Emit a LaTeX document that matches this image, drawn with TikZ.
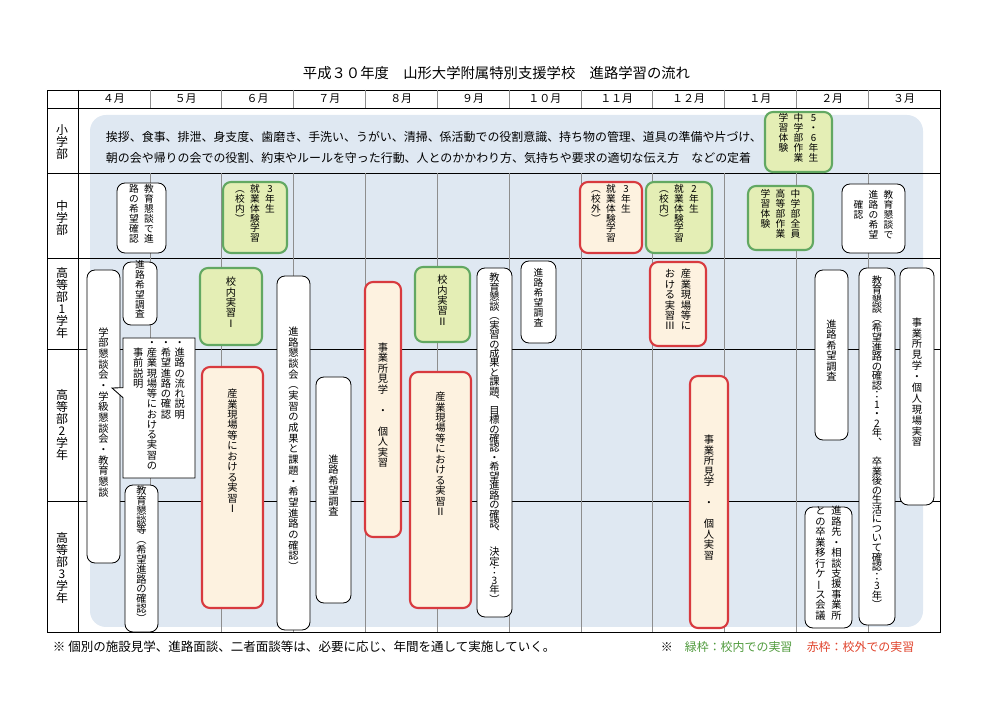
\documentclass[tikz,border=0pt]{standalone}
\usepackage{fontspec}
\setmainfont{Noto Sans CJK JP}
\usetikzlibrary{fit, shapes.callouts}
\definecolor{haikei}{HTML}{DFE8F2}
\definecolor{midori}{HTML}{62A862}
\definecolor{midoriin}{HTML}{E4EEB5}
\definecolor{aka}{HTML}{D83A3F}
\definecolor{akain}{HTML}{FDF2E0}
\definecolor{keisen}{HTML}{8E8E8E}
\definecolor{chuigreen}{HTML}{4F9A3C}
\definecolor{chuired}{HTML}{E0432C}
\tikzstyle{waku} = [line width = 0.7pt, black]
\tikzstyle{tsukisen} = [line width = 0.4pt, keisen]
\tikzstyle{moji} = [font = \fontsize{7.3}{8}\selectfont]
\makeatletter
\newcommand{\tcol}[2][1.02]{\vtop{\baselineskip=#1em\lineskiplimit=-100pt\lineskip=0pt\@tfor\tc@x:=#2\do{\hbox to 1em{\hss\tc@x\hss}}}}
\makeatother
\newcommand{\vbar}{\rotatebox[origin=c]{90}{ー}}
\newcommand{\tgap}{\hspace{0.55em}}

\begin{document}
\begin{tikzpicture}[x=0.25mm, y=-0.25mm,
	wbox/.style={moji, draw, fill=white, line width=.6pt, rounded corners=2mm, inner sep=0pt},
	gbox/.style={wbox, draw=midori, fill=midoriin, line width=1.5pt},
	rbox/.style={wbox, draw=aka, fill=akain, line width=1.5pt},
	chu/.style={font=\fontsize{6.9}{8}\selectfont}]
	
	\useasboundingbox (0,0) rectangle (1000,706);
	
	% Title
	\node[font=\fontsize{10.2}{12}\selectfont] (title) at (496.5,73) {平成３０年度　山形大学附属特別支援学校　進路学習の流れ};
	
	% Background
	\fill[haikei, rounded corners=4mm] (90,115) rectangle (923,627);
	
	% Table
	\draw[waku] (47,90) rectangle (940,632);
	\foreach \y in {108,173,258,349,501}
		\draw[waku] (47,\y) -- (940,\y);
	\draw[waku] (78,90) -- (78,632);
	\foreach \i in {1,...,11}
	{
		\draw[tsukisen] ({78+71.83*\i},90) -- ({78+71.83*\i},108);
		\draw[tsukisen] ({78+71.83*\i},173) -- ({78+71.83*\i},632);
	}
	
	% Months
	\foreach \m [count=\i from 0] in {４月,５月,６月,７月,８月,９月,１０月,１１月,１２月,１月,２月,３月}
		\node[font=\fontsize{7.8}{8}\selectfont] (tsuki\i) at ({78+71.83*(\i+0.5)},99) {\m};
	
	% Row labels
	\node[font=\fontsize{8.5}{9}\selectfont] (shogakubu) at (62,142) {\tcol[1]{小学部}};
	\node[font=\fontsize{8.5}{9}\selectfont] (chugakubu) at (62,218) {\tcol[1]{中学部}};
	\node[font=\fontsize{8.5}{9}\selectfont] (koto1) at (62,303) {\tcol[1]{高等部1学年}};
	\node[font=\fontsize{8.5}{9}\selectfont] (koto2) at (62,425) {\tcol[1]{高等部2学年}};
	\node[font=\fontsize{8.5}{9}\selectfont] (koto3) at (62,568) {\tcol[1]{高等部3学年}};
	
	% Shogakubu
	\node[anchor=west, align=left, font=\fontsize{8.5}{15}\selectfont] (shokatsudo) at (101,147.5) {挨拶、食事、排泄、身支度、歯磨き、手洗い、うがい、清掃、係活動での役割意識、持ち物の管理、道具の準備や片づけ、\\朝の会や帰りの会での役割、約束やルールを守った行動、人とのかかわり方、気持ちや要求の適切な伝え方　などの定着};
	\node (shotaiken) [gbox, chu, fit={(765,112) (832,172)}] {\tcol{学習体験}\tgap\tcol{中学部作業}\tgap\tcol{5・6年生}};
	
	% Chugakubu
	\node (chukondan1) [wbox, chu, fit={(117,183) (166,253)}] {\tcol{路の希望確認}\tgap\tcol{教育懇談で進}};
	\node (chushugyo3) [gbox, chu, fit={(223,182) (287,253)}] {\tcol{︵校内︶}\tgap\tcol{就業体験学習}\tgap\tcol{3年生}};
	\node (chushugyo3s) [rbox, chu, fit={(580,182) (642,253)}] {\tcol{︵校外︶}\tgap\tcol{就業体験学習}\tgap\tcol{3年生}};
	\node (chushugyo2) [gbox, chu, fit={(646,182) (712,253)}] {\tcol{︵校内︶}\tgap\tcol{就業体験学習}\tgap\tcol{2年生}};
	\node (chutaiken) [gbox, chu, fit={(748,186) (813,250)}] {\tcol{学習体験}\tgap\tcol{高等部作業}\tgap\tcol{中学部全員}};
	\node (chukondan2) [wbox, chu, fit={(842,184) (905,253)}] {\tcol{　確認}\tgap\tcol{進路の希望}\tgap\tcol{教育懇談で}};
	
	% Kotobu
	\node (gakubukondan) [wbox, fit={(87,270) (120,563)}] {\tcol[1.04]{学部懇談会・学級懇談会・教育懇談}};
	\node (chosa1) [wbox, chu, fit={(123,262) (157,325)}] {\tcol{進路希望調査}};
	\node (jizen) [rectangle callout, draw, fill=white, line width=.6pt, inner sep=0pt, moji, fit={(123,338) (195,478)}, callout absolute pointer={(112,388)}] {\tcol[1]{　事前説明}\hspace{0.35em}\tcol[1]{・産業現場等における実習の}\hspace{0.35em}\tcol[1]{・希望進路の確認}\hspace{0.35em}\tcol[1]{・進路の流れ説明}};
	\node (kondanto) [wbox, fit={(125,485) (158,632)}] {\tcol[0.96]{教育懇談等︵希望進路の確認︶}};
	\node (konai1) [gbox, fit={(200,268) (262,345)}] {\tcol{校内実習Ⅰ}};
	\node (genba1) [rbox, fit={(202,367) (263,608)}] {};
	\node[moji, anchor=north] (genba1t) at (232.5,384) {\tcol{産業現場等における実習Ⅰ}};
	\node (shinrokondan) [wbox, fit={(277,276) (310,630)}] {\tcol[1.04]{進路懇談会︵実習の成果と課題・希望進路の確認︶}};
	\node (chosa2) [wbox, fit={(316,377) (351,603)}] {\tcol{進路希望調査}};
	\node (kengaku1) [rbox, fit={(365,282) (401,537)}] {\tcol{事業所見学　・　個人実習}};
	\node (konai2) [gbox, fit={(415,267) (470,342)}] {\tcol{校内実習Ⅱ}};
	\node (genba2) [rbox, fit={(410,372) (471,608)}] {};
	\node[moji, anchor=north] (genba2t) at (440.5,387) {\tcol{産業現場等における実習Ⅱ}};
	\node (kyoikukondan1) [wbox, fit={(477,268) (512,617)}] {\tcol[0.92]{教育懇談︵実習の成果と課題︑目標の確認・希望進路の確認︑　決定：3年︶}};
	\node (chosa3) [wbox, chu, fit={(521,261) (556,343)}] {\tcol{進路希望調査}};
	\node (genba3) [rbox, fit={(650,262) (706,346)}] {\tcol{おける実習Ⅲ}\tgap\tcol{産業現場等に}};
	\node (kengaku2) [rbox, fit={(690,376) (728,628)}] {\tcol{事業所見学　・　個人実習}};
	\node (chosa4) [wbox, fit={(815,270) (848,440)}] {\tcol{進路希望調査}};
	\node (kyoikukondan2) [wbox, fit={(859,268) (895,625)}] {\tcol[0.93]{教育懇談︵希望進路の確認：1・2年︑　卒業後の生活について確認：3年︶}};
	\node (kengaku3) [wbox, fit={(900,268) (934,505)}] {\tcol[1.06]{事業所見学・個人現場実習}};
	\node (ikokaigi) [wbox, fit={(805,507) (852,628)}] {\tcol{との卒業移行ケ\vbar ス会議}\tgap\tcol{進路先・相談支援事業所}};
	
	% Notes
	\node[anchor=west, font=\fontsize{8.9}{10}\selectfont] (chui1) at (48,647) {※ 個別の施設見学、進路面談、二者面談等は、必要に応じ、年間を通して実施していく。};
	\node[anchor=west, font=\fontsize{8.5}{10}\selectfont] (chui2) at (656,647) {※　{\color{chuigreen}緑枠：校内での実習}\hspace{1.2em}{\color{chuired}赤枠：校外での実習}};
\end{tikzpicture}
\end{document}
